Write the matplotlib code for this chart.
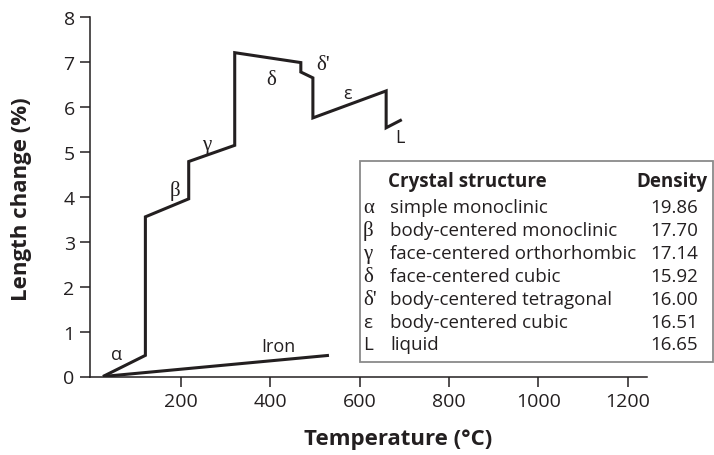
import matplotlib.pyplot as plt
from matplotlib.patches import Rectangle

plt.rcParams['font.family'] = ['Open Sans', 'DejaVu Sans']
SERIF = ['Liberation Serif', 'DejaVu Serif']

# Plutonium dilatometry curve (temperature in C, length change in %)
pu_temp = [25, 120, 120, 217, 217, 320, 320, 468, 468, 495, 495, 659, 659, 694]
pu_length = [0.0, 0.47, 3.55, 3.95, 4.78, 5.14, 7.2, 6.98, 6.77, 6.64, 5.75, 6.35, 5.53, 5.71]

# Iron reference line
fe_temp = [25, 531]
fe_length = [0.0, 0.47]

# Phase labels and where they sit on the curve
phase_labels = ['α', 'β', 'γ', 'δ', "δ'", 'ε', 'L']
phase_x = [56, 186, 258, 402, 518, 573, 690]
phase_y = [0.51, 4.15, 5.15, 6.6, 6.93, 6.3, 5.33]
phase_serif = [False, True, True, True, True, False, False]

# Table of structures
table_symbols = ['α', 'β', 'γ', 'δ', "δ'", 'ε', 'L']
table_structures = ['simple monoclinic', 'body-centered monoclinic',
                    'face-centered orthorhombic', 'face-centered cubic',
                    'body-centered tetragonal', 'body-centered cubic', 'liquid']
table_density = ['19.86', '17.70', '17.14', '15.92', '16.00', '16.51', '16.65']

W, H = 714, 456
fig = plt.figure(figsize=(W / 100, H / 100), dpi=100)
ax = fig.add_axes([90 / W, 1 - 377.5 / H, (647 - 90) / W, (377.5 - 17.7) / H])

line_color = '#231f20'
ax.plot(pu_temp, pu_length, color=line_color, linewidth=2.2,
        solid_joinstyle='miter', solid_capstyle='butt')
ax.plot(fe_temp, fe_length, color=line_color, linewidth=2.2, solid_capstyle='butt')

for lab, x, y, serif in zip(phase_labels, phase_x, phase_y, phase_serif):
    kw = {'family': SERIF, 'fontsize': 15} if serif else {'fontsize': 13}
    ax.text(x, y, lab, ha='center', va='center', color=line_color, **kw)
ax.text(417, 0.67, 'Iron', fontsize=13, ha='center', va='center', color=line_color)

ax.set_xlim(-4, 1243)
ax.set_ylim(0, 8)
ax.set_xticks([200, 400, 600, 800, 1000, 1200])
ax.set_yticks(range(0, 9))
ax.spines['top'].set_visible(False)
ax.spines['right'].set_visible(False)
for s in ['left', 'bottom']:
    ax.spines[s].set_linewidth(1.1)
    ax.spines[s].set_color(line_color)
ax.tick_params(direction='out', length=7, width=1.1, labelsize=14,
               colors=line_color, pad=4)

fig.text(398 / W, 1 - 440 / H, 'Temperature (°C)', fontsize=16, fontweight='bold',
         ha='center', va='center', color=line_color)
fig.text(22 / W, 1 - 199 / H, 'Length change (%)', fontsize=16, fontweight='bold',
         ha='center', va='center', rotation=90, color=line_color)

# Table box
fig.add_artist(Rectangle((360 / W, 1 - 362.7 / H), (713 - 360) / W, (362.7 - 161.7) / H,
                         transform=fig.transFigure, fill=False,
                         edgecolor='#8a8a8a', linewidth=1.3))

def fy(py):
    return 1 - py / H

fig.text(388 / W, fy(187), 'Crystal structure', fontsize=13.5, fontweight='bold',
         ha='left', va='baseline', color=line_color)
fig.text(707 / W, fy(187), 'Density', fontsize=13.5, fontweight='bold',
         ha='right', va='baseline', color=line_color)

row_base = [213.3, 236.3, 259, 282, 305, 327.7, 350.5]
for sym, name, dens, b in zip(table_symbols, table_structures, table_density, row_base):
    sym_kw = {'family': SERIF, 'fontsize': 15} if sym not in ('ε', 'L') else {'fontsize': 13.5}
    fig.text(363 / W, fy(b), sym, ha='left', va='baseline', color=line_color, **sym_kw)
    fig.text(390 / W, fy(b), name, fontsize=13.5, ha='left', va='baseline', color=line_color)
    fig.text(698 / W, fy(b), dens, fontsize=13.5, ha='right', va='baseline', color=line_color)

fig.savefig('out.png', dpi=100)
